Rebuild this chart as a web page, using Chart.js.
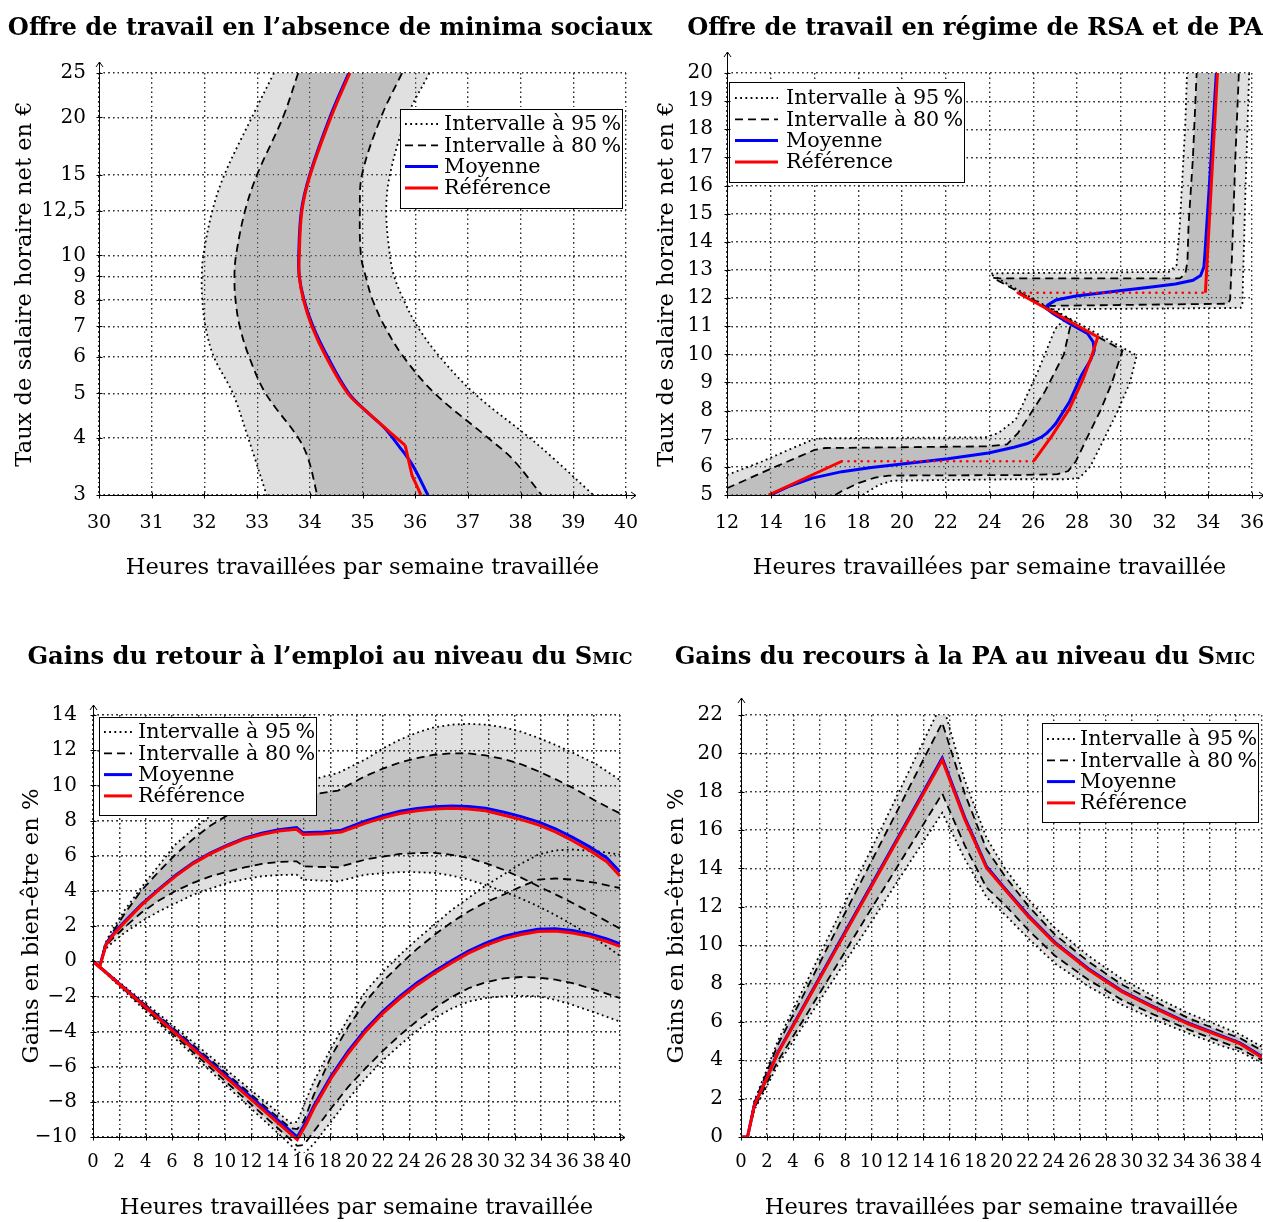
<!DOCTYPE html>
<html lang="fr">
<head>
<meta charset="utf-8">
<title>Offre de travail et gains</title>
<script src="https://cdn.jsdelivr.net/npm/chart.js@4.4.1/dist/chart.umd.min.js"></script>
<style>
html,body{margin:0;padding:0;background:#fff}
body{position:relative;width:1263px;height:1222px;overflow:hidden;font-family:"DejaVu Serif",serif}
canvas{position:absolute}
.ttl{position:absolute;z-index:5;font-family:"DejaVu Serif",serif;font-weight:bold;font-size:24.2px;white-space:nowrap;transform:translate(-50%,-50%);line-height:1.1;color:#000}
.sc{font-variant:small-caps}
</style>
</head>
<body>
<canvas id="c1" width="640" height="610" style="left:0;top:0"></canvas>
<canvas id="c2" width="623" height="610" style="left:640px;top:0"></canvas>
<canvas id="c3" width="640" height="612" style="left:0;top:610px"></canvas>
<canvas id="c4" width="623" height="612" style="left:640px;top:610px"></canvas>
<div class="ttl" style="left:330px;top:27px">Offre de travail en l’absence de minima sociaux</div>
<div class="ttl" style="left:975px;top:27px">Offre de travail en régime de RSA et de PA</div>
<div class="ttl" style="left:330px;top:656px">Gains du retour à l’emploi au niveau du <span class="sc">Smic</span></div>
<div class="ttl" style="left:965px;top:656px">Gains du recours à la PA au niveau du <span class="sc">Smic</span></div>
<script>
// ---------- Labels ----------
const L95 = 'Intervalle à 95\u202f%';
const L80 = 'Intervalle à 80\u202f%';
const LMEAN = 'Moyenne';
const LREF = 'Référence';
const xTitle = 'Heures travaillées par semaine travaillée';
const yTitleWage = 'Taux de salaire horaire net en €';
const yTitleGain = 'Gains en bien-être en %';

// ---------- Plot 1 : offre de travail sans minima sociaux (x = heures, y = salaire) ----------
const wage1 = [25, 20, 15, 12.5, 10, 9, 8, 7, 6, 5, 4, 3.6, 3];
const hours1Low95 = [33.32, 32.90, 32.38, 32.15, 31.98, 31.95, 31.96, 32.02, 32.18, 32.54, 32.83, 32.96, 33.18];
const hours1Low80 = [33.78, 33.49, 33.00, 32.77, 32.60, 32.57, 32.59, 32.67, 32.85, 33.16, 33.78, 33.97, 34.14];
const hours1High80 = [35.75, 35.35, 34.99, 34.95, 34.97, 35.06, 35.19, 35.42, 35.78, 36.37, 37.38, 37.84, 38.40];
const hours1High95 = [36.27, 35.84, 35.52, 35.45, 35.52, 35.60, 35.78, 36.04, 36.47, 37.12, 38.17, 38.63, 39.38];
const refWage1 = [25, 20, 15, 12.5, 10, 9, 8, 7, 6, 5, 4.55, 3.85, 3.31, 3];
const refHours1 = [34.76, 34.40, 34.01, 33.85, 33.80, 33.80, 33.88, 34.04, 34.31, 34.72, 35.09, 35.81, 35.94, 36.11];
const refKink1 = 11;
const meanWage1 = [25, 20, 15, 12.5, 10, 9, 8, 7, 6, 5, 4.55, 4.2, 3.85, 3.5, 3];
const meanHours1 = [34.74, 34.38, 34.00, 33.84, 33.79, 33.80, 33.89, 34.06, 34.34, 34.74, 35.09, 35.42, 35.68, 35.94, 36.24];
const wageTicks1 = [3, 4, 5, 6, 7, 8, 9, 10, 12.5, 15, 20, 25];
const wageTickLabels1 = ['3', '4', '5', '6', '7', '8', '9', '10', '12,5', '15', '20', '25'];

// ---------- Plot 2 : RSA et PA ----------
const left80X = [12, 14.05, 16.0, 16.5, 23.95, 24.8, 25.3, 26.55, 27.4, 27.75, 24.15, 24.5, 32.7, 32.95, 33.05, 33.1, 33.3, 33.47];
const left80Y = [5.24, 5.95, 6.6, 6.67, 6.73, 6.8, 7.2, 8.7, 10.0, 11.2, 12.72, 12.7, 12.7, 12.85, 13.3, 14.6, 17.0, 20];
const right80X = [16.95, 17.25, 18.0, 18.77, 19.4, 25.47, 27.1, 27.6, 27.95, 28.44, 29.07, 29.6, 30.08, 26.4, 34.9, 35.0, 35.08, 35.24, 35.4];
const right80Y = [5.0, 5.14, 5.42, 5.62, 5.69, 5.71, 5.74, 5.85, 6.2, 7.0, 8.0, 9.0, 10.14, 11.72, 11.8, 11.95, 13.4, 17.0, 20];
const left95X = [12, 13.6, 14.8, 15.8, 16.34, 23.8, 24.4, 25.2, 26.2, 27.0, 27.5, 24.03, 24.2, 32.2, 32.55, 32.7, 32.95, 33.03];
const left95Y = [5.71, 6.19, 6.6, 6.93, 7.02, 7.05, 7.2, 7.68, 9.37, 10.9, 11.3, 12.86, 12.88, 12.93, 13.17, 14.6, 18.16, 20];
const right95X = [18.2, 18.95, 19.56, 25.47, 27.5, 28.1, 28.6, 29.24, 29.87, 30.42, 30.73, 26.9, 35.48, 35.56, 35.7, 35.87];
const right95Y = [5.0, 5.36, 5.51, 5.56, 5.56, 5.6, 6.0, 7.0, 8.0, 9.0, 9.96, 11.6, 11.65, 11.8, 15.8, 20];
const ref2X = [13.9, 17.25, 26.02, 26.86, 27.65, 28.28, 28.68, 28.95, 25.29, 33.87, 34.42];
const ref2Y = [5.0, 6.2, 6.2, 7.11, 8.06, 9.13, 9.96, 10.62, 12.19, 12.19, 20];
const ref2DottedSegments = [1, 8];
const mean2X = [13.98, 14.8, 15.9, 17.25, 18.6, 20.0, 22.1, 23.95, 25.12, 25.7, 26.07, 26.4, 26.62, 26.85, 27.02, 27.65, 28.2, 28.62, 28.79, 28.74, 28.48, 27.65, 26.9, 26.6, 26.66, 27.04, 27.95, 30.23, 31.5, 32.5, 33.3, 33.65, 33.8, 33.85, 34.13, 34.37];
const mean2Y = [5.0, 5.3, 5.6, 5.83, 5.98, 6.1, 6.29, 6.49, 6.7, 6.82, 6.94, 7.07, 7.2, 7.38, 7.53, 8.3, 9.25, 9.8, 10.14, 10.44, 10.74, 11.1, 11.45, 11.63, 11.75, 11.93, 12.07, 12.29, 12.4, 12.5, 12.63, 12.8, 13.1, 13.6, 16.97, 20];

// ---------- Plot 3 : gains du retour à l'emploi ----------
const curveA3X = [0, 0.5, 1.0, 1.6, 2.4, 3.7, 5.0, 6.3, 7.6, 8.9, 10.2, 11.5, 12.8, 14.1, 15.45, 15.95, 17.5, 18.85, 20.7, 22.0, 23.3, 24.6, 25.9, 27.2, 28.5, 29.8, 31.2, 32.5, 33.8, 35.1, 36.4, 37.7, 39.0, 40.0];
const refA3 = [0, -0.35, 0.95, 1.55, 2.2, 3.2, 4.05, 4.85, 5.55, 6.1, 6.55, 6.95, 7.2, 7.4, 7.5, 7.2, 7.25, 7.35, 7.85, 8.15, 8.4, 8.55, 8.65, 8.7, 8.65, 8.55, 8.3, 8.05, 7.75, 7.35, 6.85, 6.3, 5.65, 4.85];
const meanA3 = [0, -0.3, 1.0, 1.6, 2.25, 3.25, 4.1, 4.9, 5.6, 6.15, 6.6, 7.0, 7.28, 7.48, 7.6, 7.3, 7.35, 7.45, 7.97, 8.28, 8.53, 8.68, 8.78, 8.83, 8.8, 8.7, 8.47, 8.22, 7.92, 7.53, 7.04, 6.5, 5.87, 5.08];
const bandA3X = [0.5, 0.9, 1.31, 2.36, 3.66, 5.0, 6.28, 7.6, 8.9, 10.2, 11.5, 12.8, 14.14, 15.45, 15.97, 16.75, 18.6, 20.68, 22.0, 23.3, 24.6, 25.9, 27.2, 28.5, 29.8, 31.15, 32.5, 33.8, 35.1, 36.4, 38.2, 40];
const hiA95 = [-0.35, 0.95, 1.6, 2.85, 4.18, 5.45, 6.65, 7.5, 8.25, 8.85, 9.32, 9.65, 9.9, 10.1, 10.2, 10.35, 10.7, 11.48, 12.1, 12.6, 13.0, 13.3, 13.45, 13.5, 13.45, 13.3, 13.05, 12.7, 12.3, 11.86, 11.2, 10.3];
const hiA80 = [-0.35, 0.9, 1.42, 2.66, 4.0, 5.1, 6.08, 6.95, 7.7, 8.3, 8.75, 9.05, 9.32, 9.45, 9.47, 9.5, 9.7, 10.53, 10.95, 11.3, 11.55, 11.74, 11.82, 11.82, 11.7, 11.5, 11.2, 10.8, 10.35, 9.87, 9.1, 8.4];
const loA80 = [-0.35, 0.76, 1.15, 1.9, 2.75, 3.45, 4.0, 4.45, 4.82, 5.1, 5.33, 5.53, 5.65, 5.68, 5.4, 5.37, 5.34, 5.78, 5.95, 6.1, 6.15, 6.16, 6.05, 5.87, 5.57, 5.2, 4.75, 4.26, 3.8, 3.31, 2.6, 1.85];
const loA95 = [-0.35, 0.66, 0.95, 1.6, 2.25, 2.83, 3.3, 3.78, 4.12, 4.45, 4.66, 4.83, 4.9, 4.92, 4.64, 4.6, 4.54, 4.92, 5.0, 5.07, 5.06, 5.02, 4.87, 4.64, 4.33, 3.97, 3.56, 3.12, 2.62, 2.07, 1.25, 0.3];
const curveB3X = [0, 15.5, 16.2, 16.75, 18.06, 19.37, 20.68, 22.0, 23.3, 24.6, 25.92, 27.2, 28.5, 29.8, 31.15, 32.5, 33.77, 35.08, 36.4, 37.7, 39.0, 40];
const refB3 = [0, -10.15, -9.25, -8.38, -6.67, -5.25, -4.01, -2.97, -2.11, -1.35, -0.69, -0.1, 0.46, 0.9, 1.27, 1.52, 1.69, 1.72, 1.6, 1.41, 1.12, 0.84];
const meanB3 = [0, -10.0, -9.1, -8.25, -6.55, -5.12, -3.88, -2.85, -1.99, -1.23, -0.57, 0.02, 0.58, 1.02, 1.4, 1.65, 1.82, 1.85, 1.74, 1.55, 1.27, 0.98];
const bandB3X = [0, 5, 10, 15.0, 15.5, 16.0, 16.75, 18.06, 19.37, 20.68, 22.0, 23.3, 24.6, 25.92, 27.2, 28.5, 29.8, 31.15, 32.5, 33.8, 35.1, 36.4, 38.2, 40];
const hiB95 = [0, -3.0, -6.1, -9.2, -9.14, -8.2, -6.86, -4.96, -3.25, -1.73, -0.6, 0.36, 1.25, 2.08, 2.9, 3.6, 4.3, 4.92, 5.55, 6.06, 6.3, 6.35, 6.25, 6.06];
const hiB80 = [0, -3.12, -6.3, -9.5, -9.55, -9.1, -7.62, -5.44, -3.73, -2.3, -1.15, -0.19, 0.7, 1.5, 2.2, 2.83, 3.35, 3.78, 4.25, 4.64, 4.7, 4.64, 4.45, 4.16];
const loB80 = [0, -3.42, -6.8, -10.15, -10.5, -10.45, -9.7, -8.38, -7.15, -6.1, -5.1, -4.2, -3.4, -2.68, -2.05, -1.54, -1.2, -0.98, -0.9, -0.93, -1.05, -1.25, -1.65, -2.1];
const loB95 = [0, -3.55, -7.0, -10.45, -10.85, -10.95, -10.4, -9.14, -7.85, -6.67, -5.65, -4.77, -3.95, -3.25, -2.7, -2.3, -2.1, -2.0, -1.97, -2.0, -2.2, -2.49, -2.95, -3.44];

// ---------- Plot 4 : gains du recours à la PA ----------
const hours4 = [0, 0.5, 1.03, 1.8, 2.82, 4.87, 7.44, 10.0, 12.56, 15.45, 17.18, 18.85, 20.26, 22.05, 24.1, 26.67, 29.23, 31.8, 34.36, 36.9, 38.33, 40];
const ref4 = [0, 0, 1.66, 2.79, 4.36, 6.84, 9.95, 13.05, 16.15, 19.65, 16.56, 14.03, 12.9, 11.5, 10.1, 8.72, 7.58, 6.71, 5.89, 5.23, 4.85, 4.15];
const mean4 = [0, 0, 1.68, 2.82, 4.4, 6.9, 10.02, 13.12, 16.23, 19.75, 16.65, 14.1, 12.96, 11.56, 10.15, 8.77, 7.62, 6.75, 5.93, 5.27, 4.89, 4.2];
const hi95_4 = [0, 0, 1.9, 3.2, 5.0, 7.85, 11.45, 15.0, 18.6, 22.65, 18.6, 15.6, 14.0, 12.4, 10.9, 9.45, 8.25, 7.3, 6.45, 5.75, 5.35, 4.7];
const hi80_4 = [0, 0, 1.82, 3.07, 4.8, 7.5, 10.95, 14.35, 17.75, 21.6, 17.9, 15.0, 13.6, 12.05, 10.55, 9.15, 7.95, 7.05, 6.2, 5.5, 5.15, 4.5];
const lo80_4 = [0, 0, 1.5, 2.55, 3.95, 6.2, 9.05, 11.9, 14.7, 17.9, 15.2, 13.0, 12.1, 10.8, 9.45, 8.2, 7.15, 6.35, 5.6, 4.95, 4.6, 4.0];
const lo95_4 = [0, 0, 1.43, 2.4, 3.75, 5.9, 8.55, 11.2, 13.9, 16.9, 14.5, 12.5, 11.6, 10.35, 9.05, 7.85, 6.9, 6.1, 5.4, 4.75, 4.45, 3.85];

// ---------- Helpers ----------
Chart.defaults.font.family = '"DejaVu Serif", serif';
Chart.defaults.color = '#000';
const LIGHT = '#e0e0e0', DARK = '#bfbfbf', GRID = '#333';
const S95 = {borderColor: '#000', borderWidth: 1.8, borderDash: [1.8, 3.4]};
const S80 = {borderColor: '#000', borderWidth: 1.8, borderDash: [8, 5]};
const SMEAN = {borderColor: '#0000ff', borderWidth: 3};
const SREF = {borderColor: '#ff0000', borderWidth: 3};

function zip(xs, ys) { return xs.map((x, i) => ({x: x, y: ys[i]})); }
// closed outline: boundary a, then boundary b backwards; junction points repeated so that
// a smoothed outline keeps the same edges as the separately drawn boundary lines
function polygon(a, b) {
  const rb = b.slice().reverse();
  return a.concat([a[a.length - 1], rb[0]], rb);
}
function fillDs(data, color, order, tension) {
  return {kind: 'fill', data: data, fill: 'shape', backgroundColor: color, borderColor: 'transparent',
    borderWidth: 0, showLine: true, pointRadius: 0, order: order, tension: tension || 0};
}
function lineDs(label, data, style, order, extra) {
  return Object.assign({kind: 'line', label: label, data: data, showLine: true, fill: false,
    pointRadius: 0, backgroundColor: 'transparent', order: order}, style, extra || {});
}
function fmt(v) { return v < 0 ? '\u2212' + Math.abs(v) : String(v); }

const gridOverFill = {
  id: 'gridOverFill',
  afterDatasetDraw(chart, args) {
    const ds = chart.data.datasets[args.index];
    if (!ds || ds.kind !== 'fill') return;
    chart.scales.x.drawGrid(chart.chartArea);
    chart.scales.y.drawGrid(chart.chartArea);
  }
};

const boxLegend = {
  id: 'boxLegend',
  afterDatasetsDraw(chart, args, o) {
    const ctx = chart.ctx;
    const seen = new Map();
    chart.data.datasets.forEach(ds => { if (ds.label && !seen.has(ds.label)) seen.set(ds.label, ds); });
    ctx.save();
    ctx.fillStyle = '#fff';
    ctx.fillRect(o.x, o.y, o.w, o.h);
    ctx.strokeStyle = '#000'; ctx.lineWidth = 1; ctx.setLineDash([]);
    ctx.strokeRect(o.x + 0.5, o.y + 0.5, o.w, o.h);
    [L95, L80, LMEAN, LREF].forEach((lab, i) => {
      const ds = seen.get(lab); if (!ds) return;
      const cy = o.y + o.first + i * o.step;
      ctx.beginPath();
      ctx.setLineDash(ds.borderDash || []);
      ctx.lineWidth = ds.borderWidth; ctx.strokeStyle = ds.borderColor; ctx.lineCap = 'butt';
      ctx.moveTo(o.x + o.s0, cy); ctx.lineTo(o.x + o.s1, cy); ctx.stroke();
      ctx.setLineDash([]);
      ctx.fillStyle = '#000'; ctx.font = o.font; ctx.textBaseline = 'middle'; ctx.textAlign = 'left';
      ctx.fillText(lab, o.x + o.tx, cy + 1);
    });
    ctx.restore();
  }
};

const axesArrows = {
  id: 'axesArrows',
  afterDraw(chart, args, o) {
    const ctx = chart.ctx, a = chart.chartArea, sx = chart.scales.x, sy = chart.scales.y;
    const L = Math.round(a.left) + 0.5, B = Math.round(a.bottom) + 0.5;
    ctx.save();
    ctx.strokeStyle = '#000'; ctx.lineWidth = 1; ctx.setLineDash([]);
    const line = (x1, y1, x2, y2) => { ctx.beginPath(); ctx.moveTo(x1, y1); ctx.lineTo(x2, y2); ctx.stroke(); };
    const topY = a.top - o.up, rightX = a.right + o.right;
    line(L, a.bottom + 1, L, topY);
    line(L - 3.5, topY + 5, L, topY); line(L + 3.5, topY + 5, L, topY);
    line(a.left, B, rightX, B);
    line(rightX - 5, B - 3.5, rightX, B); line(rightX - 5, B + 3.5, rightX, B);
    sx.ticks.forEach(t => { const p = Math.round(sx.getPixelForValue(t.value)) + 0.5; line(p, B - 3, p, B + 3); });
    sy.ticks.forEach(t => { const p = Math.round(sy.getPixelForValue(t.value)) + 0.5; line(L - 3, p, L + 3, p); });
    ctx.restore();
  }
};

function makeChart(id, c) {
  const yScale = Object.assign({
    position: 'left',
    ticks: Object.assign({autoSkip: false, padding: c.ypad, font: {size: 20}, callback: fmt}, c.yticks || {}),
    grid: {color: GRID, lineWidth: 1.2, drawTicks: false},
    border: {display: false, dash: [1.2, 3.5]},
    title: {display: true, text: c.ytitle, font: {size: 22.6}, padding: {top: c.ytp, bottom: 0}},
    afterFit: s => { s.width = c.yw; s.paddingTop = 0; s.paddingBottom = 0; }
  }, c.yscale);
  return new Chart(document.getElementById(id), {
    type: 'scatter',
    data: {datasets: c.datasets},
    plugins: [gridOverFill, boxLegend, axesArrows],
    options: {
      responsive: false, animation: false, events: [],
      layout: {padding: {top: c.top, left: 0, right: 0, bottom: 0}},
      elements: {point: {radius: 0, hoverRadius: 0}, line: {tension: 0}},
      plugins: {legend: {display: false}, tooltip: {enabled: false}, boxLegend: c.legend, axesArrows: c.arrows},
      scales: {
        x: {
          type: 'linear', position: 'bottom', min: c.xmin, max: c.xmax,
          ticks: {stepSize: c.xstep, autoSkip: false, maxRotation: 0, minRotation: 0, padding: c.xpad, font: {size: c.xfont}, callback: fmt},
          grid: {color: GRID, lineWidth: 1.2, drawTicks: false},
          border: {display: false, dash: [1.2, 3.5]},
          title: {display: true, text: xTitle, font: {size: 22.6}, padding: {top: 0, bottom: c.xtb}},
          afterFit: s => { s.height = c.xh; s.paddingLeft = 0; s.paddingRight = 0; }
        },
        y: yScale,
        yr: {
          type: 'linear', position: 'right', display: true,
          grid: {display: false}, ticks: {display: false}, border: {display: false},
          afterFit: s => { s.width = c.rw; s.paddingTop = 0; s.paddingBottom = 0; }
        }
      }
    }
  });
}

const legendFont = '20.7px "DejaVu Serif"';

// ---------- Chart 1 ----------
const T1 = {tension: 0.35};
const ref1 = zip(refHours1, refWage1);
makeChart('c1', {
  top: 73, yw: 99, rw: 14, xh: 115, ytp: 11.5, xtb: 28.5, ypad: 13, xpad: 16.6, xfont: 19,
  xmin: 30, xmax: 40, xstep: 1, ytitle: yTitleWage,
  yscale: {type: 'logarithmic', min: 3, max: 25, afterBuildTicks: s => { s.ticks = wageTicks1.map(v => ({value: v})); }},
  yticks: {callback: (v, i) => wageTickLabels1[i]},
  legend: {x: 400, y: 109, w: 222, h: 99, first: 15, step: 21.3, s0: 5, s1: 38, tx: 44, font: legendFont},
  arrows: {up: 11, right: 10},
  datasets: [
    fillDs(polygon(zip(hours1Low95, wage1), zip(hours1High95, wage1)), LIGHT, 20, 0.35),
    fillDs(polygon(zip(hours1Low80, wage1), zip(hours1High80, wage1)), DARK, 19, 0.35),
    lineDs(L95, zip(hours1Low95, wage1), S95, 10, T1),
    lineDs(L95, zip(hours1High95, wage1), S95, 10, T1),
    lineDs(L80, zip(hours1Low80, wage1), S80, 9, T1),
    lineDs(L80, zip(hours1High80, wage1), S80, 9, T1),
    lineDs(LMEAN, zip(meanHours1, meanWage1), SMEAN, 2, T1),
    lineDs(LREF, ref1.slice(0, refKink1 + 1), SREF, 1, T1),
    lineDs(LREF, ref1.slice(refKink1), SREF, 1)
  ]
});

// ---------- Chart 2 ----------
const dotted2 = ctx => ref2DottedSegments.includes(ctx.p0DataIndex);
makeChart('c2', {
  top: 73, yw: 87, rw: 11, xh: 115, ytp: 13.5, xtb: 28.5, ypad: 14, xpad: 16.6, xfont: 19,
  xmin: 12, xmax: 36, xstep: 2, ytitle: yTitleWage,
  yscale: {type: 'linear', min: 5, max: 20},
  yticks: {stepSize: 1},
  legend: {x: 89, y: 82, w: 235, h: 100, first: 16, step: 21.3, s0: 6, s1: 49, tx: 57, font: legendFont},
  arrows: {up: 21, right: 12},
  datasets: [
    fillDs([{x: 12, y: 5}].concat(polygon(zip(left95X, left95Y), zip(right95X, right95Y))), LIGHT, 20),
    fillDs([{x: 12, y: 5}].concat(polygon(zip(left80X, left80Y), zip(right80X, right80Y))), DARK, 19),
    lineDs(L95, zip(left95X, left95Y), S95, 10),
    lineDs(L95, zip(right95X, right95Y), S95, 10),
    lineDs(L80, zip(left80X, left80Y), S80, 9),
    lineDs(L80, zip(right80X, right80Y), S80, 9),
    lineDs(LMEAN, zip(mean2X, mean2Y), SMEAN, 2),
    lineDs(LREF, zip(ref2X, ref2Y), SREF, 1, {segment: {
      borderDash: ctx => dotted2(ctx) ? [0.1, 6.5] : undefined,
      borderWidth: ctx => dotted2(ctx) ? 2.6 : undefined,
      borderCapStyle: ctx => dotted2(ctx) ? 'round' : undefined
    }})
  ]
});

// ---------- Chart 3 ----------
const C3 = {clip: {left: 0, top: 0, right: 0, bottom: 16}};
makeChart('c3', {
  top: 105, yw: 93, rw: 20, xh: 85, ytp: 18.5, xtb: 0.5, ypad: 16, xpad: 15, xfont: 18,
  xmin: 0, xmax: 40, xstep: 2, ytitle: yTitleGain,
  yscale: {type: 'linear', min: -10, max: 14},
  yticks: {stepSize: 2},
  legend: {x: 99, y: 107, w: 217, h: 98, first: 15, step: 21.3, s0: 5, s1: 33, tx: 39, font: legendFont},
  arrows: {up: 10, right: 5},
  datasets: [
    fillDs(polygon(zip(bandA3X, hiA95), zip(bandA3X, loA95)), LIGHT, 22),
    fillDs(polygon(zip(bandB3X, hiB95), zip(bandB3X, loB95)), LIGHT, 21),
    fillDs(polygon(zip(bandA3X, hiA80), zip(bandA3X, loA80)), DARK, 20),
    fillDs(polygon(zip(bandB3X, hiB80), zip(bandB3X, loB80)), DARK, 19),
    lineDs(L95, zip(bandA3X, hiA95), S95, 10, C3),
    lineDs(L95, zip(bandA3X, loA95), S95, 10, C3),
    lineDs(L95, zip(bandB3X, hiB95), S95, 10, C3),
    lineDs(L95, zip(bandB3X, loB95), S95, 10, C3),
    lineDs(L80, zip(bandA3X, hiA80), S80, 9, C3),
    lineDs(L80, zip(bandA3X, loA80), S80, 9, C3),
    lineDs(L80, zip(bandB3X, hiB80), S80, 9, C3),
    lineDs(L80, zip(bandB3X, loB80), S80, 9, C3),
    lineDs(LMEAN, zip(curveA3X, meanA3), SMEAN, 2, C3),
    lineDs(LMEAN, zip(curveB3X, meanB3), SMEAN, 2, C3),
    lineDs(LREF, zip(curveA3X, refA3), SREF, 1, C3),
    lineDs(LREF, zip(curveB3X, refB3), SREF, 1, C3)
  ]
});

// ---------- Chart 4 ----------
makeChart('c4', {
  top: 105, yw: 101, rw: 1, xh: 85, ytp: 23.5, xtb: 0.5, ypad: 18, xpad: 15, xfont: 18,
  xmin: 0, xmax: 40, xstep: 2, ytitle: yTitleGain,
  yscale: {type: 'linear', min: 0, max: 22},
  yticks: {stepSize: 2},
  legend: {x: 402, y: 113, w: 216, h: 99, first: 16, step: 21.3, s0: 5, s1: 33, tx: 38, font: legendFont},
  arrows: {up: 17, right: 10},
  datasets: [
    fillDs(polygon(zip(hours4, hi95_4), zip(hours4, lo95_4)), LIGHT, 20),
    fillDs(polygon(zip(hours4, hi80_4), zip(hours4, lo80_4)), DARK, 19),
    lineDs(L95, zip(hours4, hi95_4), S95, 10),
    lineDs(L95, zip(hours4, lo95_4), S95, 10),
    lineDs(L80, zip(hours4, hi80_4), S80, 9),
    lineDs(L80, zip(hours4, lo80_4), S80, 9),
    lineDs(LMEAN, zip(hours4, mean4), SMEAN, 2),
    lineDs(LREF, zip(hours4, ref4), SREF, 1)
  ]
});
</script>
</body>
</html>
